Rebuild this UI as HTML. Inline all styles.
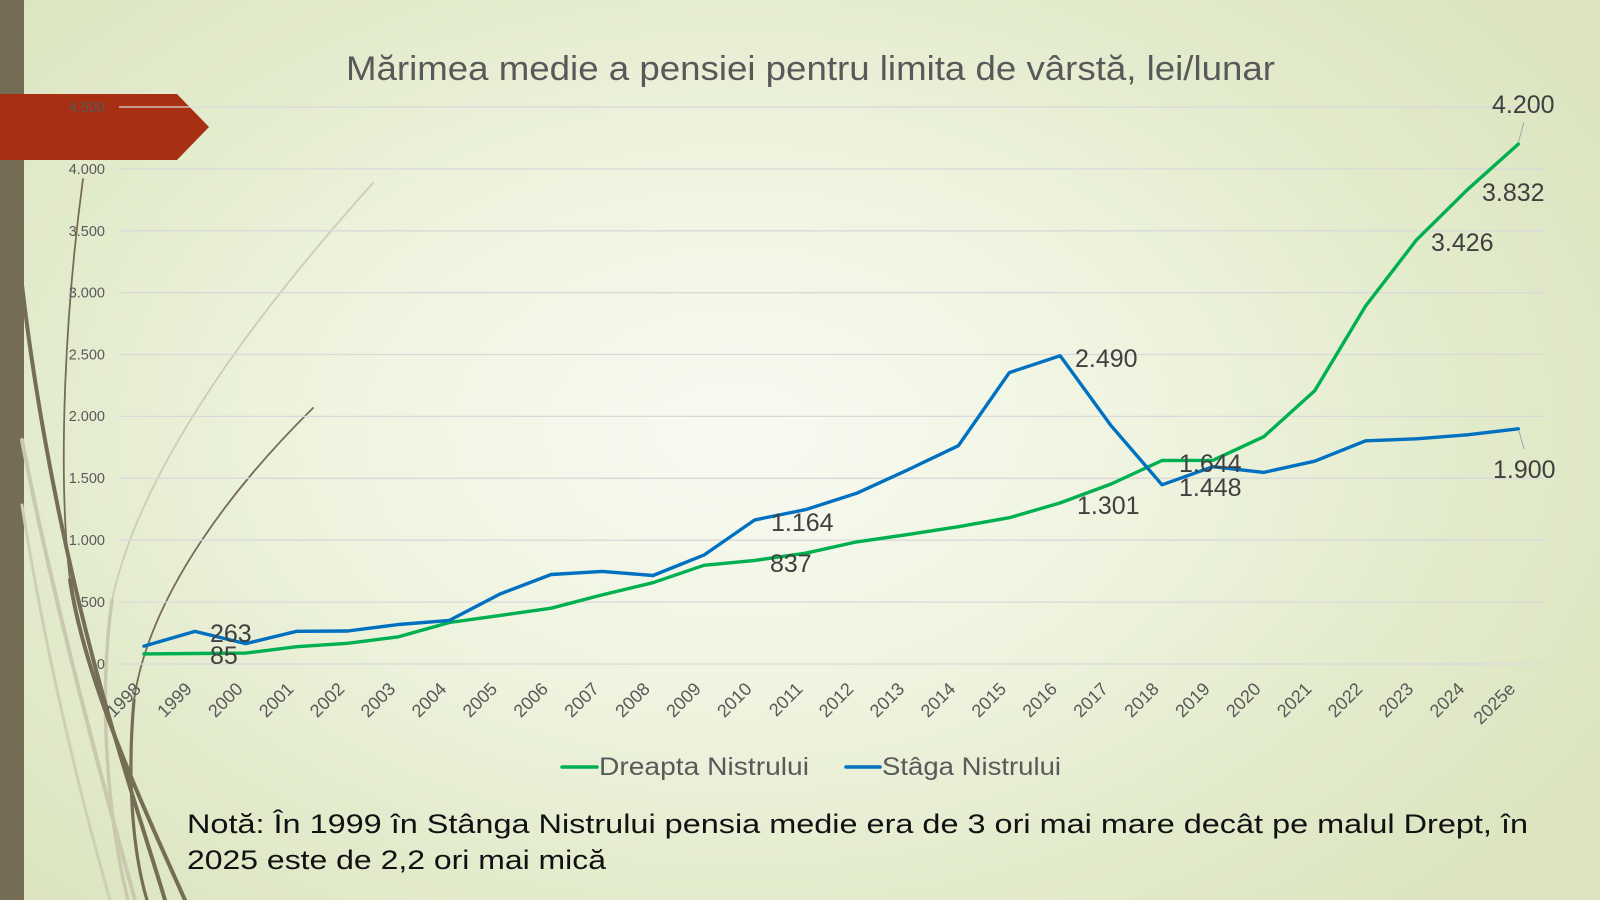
<!DOCTYPE html>
<html>
<head>
<meta charset="utf-8">
<style>
  html,body{margin:0;padding:0;}
  body{width:1600px;height:900px;overflow:hidden;
    background:radial-gradient(ellipse 62% 72% at 46% 48%, #f8faf1 0%, #eff4e0 40%, #e3ebcd 72%, #dce5c0 100%);}
  svg{position:absolute;left:0;top:0;}
  text{font-family:"Liberation Sans", Arial, sans-serif;}
</style>
</head>
<body>
<svg width="1600" height="900" viewBox="0 0 1600 900" xmlns="http://www.w3.org/2000/svg">
  <!-- left bar -->
  <rect x="0" y="0" width="24" height="900" fill="#746c54"/>

  <!-- decorative curves -->
  <g fill="none" stroke-linecap="round">
    <path d="M 22 440 C 45 560, 85 720, 135 900" stroke="#c9c9b0" stroke-width="4"/>
    <path d="M 22 505 C 40 620, 70 760, 110 900" stroke="#cfcfb8" stroke-width="3"/>
    <path d="M 373 183 C 250 320, 140 470, 112 600" stroke="#cdcdb6" stroke-width="1.8"/>
    <path d="M 112 600 C 98 700, 108 820, 128 900" stroke="#c9c9b0" stroke-width="3.5"/>
    <path d="M 313 408 C 240 480, 150 590, 134 700" stroke="#756d56" stroke-width="1.8"/>
    <path d="M 134 700 C 126 790, 135 860, 147 900" stroke="#756d56" stroke-width="3.2"/>
    <path d="M 83 179 C 64 320, 58 480, 70 580" stroke="#756d56" stroke-width="1.8"/>
    <path d="M 70 580 C 85 680, 140 800, 185 900" stroke="#756d56" stroke-width="4"/>
    <path d="M 22 285 C 40 440, 75 600, 110 720 C 130 790, 150 850, 165 900" stroke="#756d56" stroke-width="4"/>
  </g>

  <!-- red banner -->
  <polygon points="0,94 177,94 209,127 177,160 0,160" fill="#a63011"/>

  <!-- gridlines -->
  <g stroke="#d9d9d9" stroke-width="1.3">
    <line x1="119" y1="664" x2="1544" y2="664"/>
    <line x1="119" y1="602.1" x2="1544" y2="602.1"/>
    <line x1="119" y1="540.2" x2="1544" y2="540.2"/>
    <line x1="119" y1="478.3" x2="1544" y2="478.3"/>
    <line x1="119" y1="416.4" x2="1544" y2="416.4"/>
    <line x1="119" y1="354.5" x2="1544" y2="354.5"/>
    <line x1="119" y1="292.7" x2="1544" y2="292.7"/>
    <line x1="119" y1="230.8" x2="1544" y2="230.8"/>
    <line x1="119" y1="168.9" x2="1544" y2="168.9"/>
    <line x1="119" y1="107" x2="1544" y2="107"/>
  </g>

  <!-- y axis labels -->
  <g font-size="14.5" fill="#595959" text-anchor="end">
    <text x="105" y="669">0</text>
    <text x="105" y="607">500</text>
    <text x="105" y="545">1.000</text>
    <text x="105" y="483">1.500</text>
    <text x="105" y="421">2.000</text>
    <text x="105" y="359.5">2.500</text>
    <text x="105" y="297.7">3.000</text>
    <text x="105" y="235.8">3.500</text>
    <text x="105" y="174">4.000</text>
    <text x="105" y="112">4.500</text>
  </g>

  <!-- x axis labels -->
  <g font-size="18" fill="#595959" text-anchor="end">
    <text transform="translate(142,690) rotate(-45)">1998</text>
    <text transform="translate(192.9,690) rotate(-45)">1999</text>
    <text transform="translate(243.8,690) rotate(-45)">2000</text>
    <text transform="translate(294.7,690) rotate(-45)">2001</text>
    <text transform="translate(345.6,690) rotate(-45)">2002</text>
    <text transform="translate(396.5,690) rotate(-45)">2003</text>
    <text transform="translate(447.4,690) rotate(-45)">2004</text>
    <text transform="translate(498.3,690) rotate(-45)">2005</text>
    <text transform="translate(549.2,690) rotate(-45)">2006</text>
    <text transform="translate(600.1,690) rotate(-45)">2007</text>
    <text transform="translate(651,690) rotate(-45)">2008</text>
    <text transform="translate(701.9,690) rotate(-45)">2009</text>
    <text transform="translate(752.8,690) rotate(-45)">2010</text>
    <text transform="translate(803.7,690) rotate(-45)">2011</text>
    <text transform="translate(854.6,690) rotate(-45)">2012</text>
    <text transform="translate(905.5,690) rotate(-45)">2013</text>
    <text transform="translate(956.4,690) rotate(-45)">2014</text>
    <text transform="translate(1007.3,690) rotate(-45)">2015</text>
    <text transform="translate(1058.2,690) rotate(-45)">2016</text>
    <text transform="translate(1109.1,690) rotate(-45)">2017</text>
    <text transform="translate(1160,690) rotate(-45)">2018</text>
    <text transform="translate(1210.9,690) rotate(-45)">2019</text>
    <text transform="translate(1261.8,690) rotate(-45)">2020</text>
    <text transform="translate(1312.7,690) rotate(-45)">2021</text>
    <text transform="translate(1363.6,690) rotate(-45)">2022</text>
    <text transform="translate(1414.5,690) rotate(-45)">2023</text>
    <text transform="translate(1465.4,690) rotate(-45)">2024</text>
    <text transform="translate(1516.3,690) rotate(-45)">2025e</text>
  </g>

  <!-- series -->
  <g fill="none" stroke-width="3.4" stroke-linejoin="round" stroke-linecap="round">
    <polyline stroke="#00b050" points="144,653.9 194.9,653.5 245.8,653.1 296.7,646.7 347.6,643.3 398.5,636.8 449.4,622.5 500.3,615.4 551.2,608.2 602.1,594.9 653,582.7 703.9,565.3 754.8,560.4 805.7,553.2 856.6,541.9 907.5,534.6 958.4,526.7 1009.3,517.7 1060.2,502.9 1111.1,484 1162,460.5 1212.9,460.3 1263.8,436.7 1314.7,390.8 1365.6,306 1416.5,239.9 1467.4,189.7 1518.3,144.1"/>
    <polyline stroke="#0070c0" points="144,646.1 194.9,631.4 245.8,643.6 296.7,631.3 347.6,631 398.5,624.5 449.4,620.4 500.3,593.9 551.2,574.5 602.1,571.4 653,575.5 703.9,555.1 754.8,519.9 805.7,509.6 856.6,493.3 907.5,470 958.4,445.7 1009.3,372.6 1060.2,355.8 1111.1,425.7 1162,484.8 1212.9,466.7 1263.8,472.4 1314.7,461.2 1365.6,440.8 1416.5,438.8 1467.4,434.8 1518.3,428.8"/>
  </g>

  <!-- leader lines -->
  <g stroke="#a6a6a6" stroke-width="1">
    <line x1="1518.5" y1="142" x2="1524" y2="122"/>
    <line x1="1519" y1="431" x2="1524" y2="449"/>
  </g>

  <!-- data labels -->
  <g font-size="25" fill="#404040">
    <text x="210" y="642">263</text>
    <text x="210" y="664">85</text>
    <text x="771" y="531">1.164</text>
    <text x="770" y="572">837</text>
    <text x="1075" y="367">2.490</text>
    <text x="1077" y="514">1.301</text>
    <text x="1179" y="472">1.644</text>
    <text x="1179" y="496">1.448</text>
    <text x="1431" y="251">3.426</text>
    <text x="1482" y="201">3.832</text>
    <text x="1492" y="113">4.200</text>
    <text x="1493" y="478">1.900</text>
  </g>

  <!-- legend -->
  <line x1="562" y1="767" x2="597" y2="767" stroke="#00b050" stroke-width="3.5" stroke-linecap="round"/>
  <text x="599" y="775" font-size="25" fill="#595959" textLength="210" lengthAdjust="spacingAndGlyphs">Dreapta Nistrului</text>
  <line x1="846" y1="767" x2="880" y2="767" stroke="#0070c0" stroke-width="3.5" stroke-linecap="round"/>
  <text x="882" y="775" font-size="25" fill="#595959" textLength="179" lengthAdjust="spacingAndGlyphs">Stâga Nistrului</text>

  <!-- title -->
  <text x="346" y="80" font-size="34" fill="#595959" textLength="929" lengthAdjust="spacingAndGlyphs">Mărimea medie a pensiei pentru limita de vârstă, lei/lunar</text>

  <!-- note -->
  <text x="187" y="833" font-size="27" fill="#111" textLength="1341" lengthAdjust="spacingAndGlyphs">Notă: În 1999 în Stânga Nistrului pensia medie era de 3 ori mai mare decât pe malul Drept, în</text>
  <text x="187" y="869" font-size="27" fill="#111" textLength="419" lengthAdjust="spacingAndGlyphs">2025 este de 2,2 ori mai mică</text>
</svg>
</body>
</html>
